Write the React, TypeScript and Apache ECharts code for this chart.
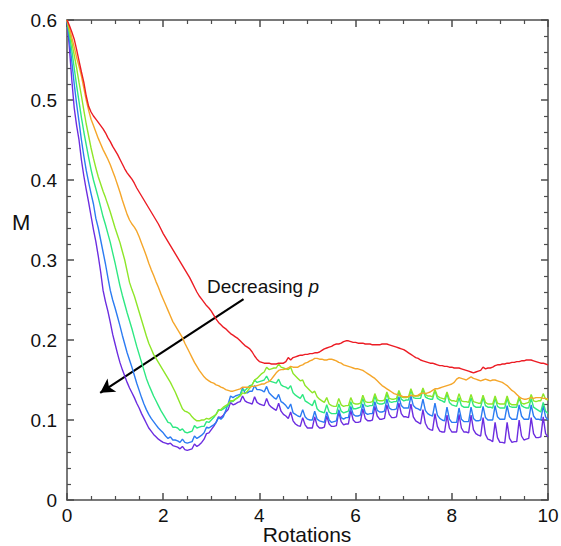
import React, { useEffect, useRef } from "react";
import * as echarts from "echarts";

// x spacing of the sampled curves (rotations)
const ROT_STEP = 0.05;

const X_TICKS = [0, 2, 4, 6, 8, 10];
const Y_TICKS = [0, 0.1, 0.2, 0.3, 0.4, 0.5, 0.6];

const SERIES_NAMES = ["p1", "p2", "p3", "p4", "p5", "p6"];
const SERIES_COLORS = ["#ec1c24", "#f5a62a", "#8ee628", "#2ee882", "#2b7bf2", "#6c2de0"];

const RED = [
  0.600, 0.593, 0.585, 0.576, 0.563, 0.549, 0.535, 0.522, 0.505, 0.492, 0.485, 0.480, 0.476, 0.472, 0.468, 0.464, 0.459, 0.453, 0.448, 0.442,
  0.437, 0.432, 0.426, 0.420, 0.414, 0.409, 0.405, 0.401, 0.396, 0.390, 0.385, 0.380, 0.375, 0.370, 0.365, 0.360, 0.355, 0.350, 0.345, 0.339,
  0.333, 0.328, 0.323, 0.318, 0.313, 0.308, 0.303, 0.298, 0.293, 0.288, 0.283, 0.278, 0.272, 0.266, 0.260, 0.255, 0.251, 0.247, 0.243, 0.240,
  0.236, 0.231, 0.226, 0.222, 0.219, 0.216, 0.214, 0.211, 0.208, 0.206, 0.204, 0.202, 0.199, 0.196, 0.193, 0.191, 0.189, 0.185, 0.180, 0.176,
  0.173, 0.172, 0.171, 0.171, 0.171, 0.170, 0.170, 0.170, 0.171, 0.171, 0.171, 0.173, 0.178, 0.175, 0.178, 0.179, 0.180, 0.181, 0.181, 0.182,
  0.182, 0.183, 0.183, 0.184, 0.184, 0.185, 0.187, 0.189, 0.190, 0.191, 0.192, 0.194, 0.195, 0.195, 0.196, 0.198, 0.199, 0.199, 0.198, 0.197,
  0.197, 0.196, 0.196, 0.196, 0.195, 0.195, 0.195, 0.194, 0.194, 0.194, 0.194, 0.195, 0.195, 0.195, 0.194, 0.193, 0.192, 0.191, 0.190, 0.189,
  0.188, 0.186, 0.184, 0.182, 0.180, 0.178, 0.177, 0.175, 0.174, 0.173, 0.172, 0.171, 0.171, 0.170, 0.169, 0.168, 0.168, 0.167, 0.167, 0.166,
  0.166, 0.165, 0.165, 0.165, 0.164, 0.163, 0.162, 0.161, 0.160, 0.159, 0.160, 0.161, 0.162, 0.166, 0.164, 0.165, 0.165, 0.166, 0.168, 0.169,
  0.169, 0.170, 0.170, 0.171, 0.171, 0.172, 0.172, 0.173, 0.173, 0.174, 0.174, 0.175, 0.175, 0.175, 0.174, 0.173, 0.172, 0.171, 0.171, 0.170,
  0.169,
];

const ORANGE = [
  0.600, 0.590, 0.578, 0.566, 0.553, 0.542, 0.530, 0.515, 0.500, 0.487, 0.476, 0.468, 0.460, 0.452, 0.445, 0.438, 0.432, 0.426, 0.419, 0.411,
  0.403, 0.394, 0.385, 0.375, 0.366, 0.357, 0.350, 0.345, 0.341, 0.336, 0.329, 0.321, 0.313, 0.305, 0.296, 0.288, 0.281, 0.273, 0.266, 0.258,
  0.251, 0.244, 0.237, 0.230, 0.223, 0.218, 0.213, 0.208, 0.203, 0.196, 0.190, 0.184, 0.178, 0.172, 0.167, 0.162, 0.158, 0.154, 0.151, 0.149,
  0.147, 0.146, 0.144, 0.143, 0.141, 0.140, 0.138, 0.137, 0.136, 0.136, 0.137, 0.138, 0.139, 0.141, 0.141, 0.141, 0.141, 0.142, 0.142, 0.143,
  0.144, 0.145, 0.145, 0.147, 0.148, 0.151, 0.155, 0.159, 0.162, 0.163, 0.163, 0.164, 0.165, 0.167, 0.166, 0.166, 0.166, 0.168, 0.169, 0.171,
  0.172, 0.174, 0.175, 0.177, 0.177, 0.176, 0.176, 0.175, 0.175, 0.176, 0.176, 0.175, 0.174, 0.172, 0.171, 0.169, 0.168, 0.167, 0.166, 0.165,
  0.164, 0.164, 0.163, 0.162, 0.160, 0.158, 0.156, 0.154, 0.152, 0.149, 0.146, 0.143, 0.141, 0.139, 0.137, 0.135, 0.133, 0.132, 0.131, 0.130,
  0.129, 0.129, 0.129, 0.131, 0.130, 0.130, 0.131, 0.133, 0.134, 0.133, 0.134, 0.135, 0.137, 0.139, 0.139, 0.140, 0.141, 0.142, 0.143, 0.144,
  0.145, 0.147, 0.151, 0.153, 0.152, 0.151, 0.150, 0.152, 0.154, 0.152, 0.151, 0.150, 0.149, 0.150, 0.151, 0.150, 0.149, 0.150, 0.150, 0.149,
  0.148, 0.147, 0.145, 0.143, 0.140, 0.137, 0.135, 0.132, 0.129, 0.127, 0.126, 0.126, 0.127, 0.128, 0.127, 0.128, 0.128, 0.128, 0.127, 0.127,
  0.126,
];

const YELLOW_GREEN = [
  0.600, 0.586, 0.572, 0.556, 0.540, 0.522, 0.505, 0.487, 0.470, 0.455, 0.440, 0.427, 0.415, 0.404, 0.395, 0.386, 0.378, 0.369, 0.360, 0.350,
  0.340, 0.331, 0.322, 0.311, 0.300, 0.286, 0.272, 0.263, 0.255, 0.245, 0.235, 0.225, 0.215, 0.205, 0.196, 0.189, 0.182, 0.177, 0.172, 0.167,
  0.162, 0.157, 0.152, 0.147, 0.141, 0.135, 0.128, 0.121, 0.114, 0.111, 0.110, 0.108, 0.104, 0.101, 0.099, 0.099, 0.100, 0.100, 0.102, 0.101,
  0.103, 0.105, 0.107, 0.112, 0.113, 0.116, 0.118, 0.120, 0.124, 0.124, 0.126, 0.128, 0.130, 0.134, 0.133, 0.136, 0.140, 0.144, 0.150, 0.152,
  0.155, 0.158, 0.160, 0.166, 0.163, 0.164, 0.165, 0.165, 0.170, 0.166, 0.165, 0.164, 0.163, 0.166, 0.158, 0.155, 0.152, 0.149, 0.150, 0.143,
  0.140, 0.137, 0.134, 0.136, 0.129, 0.126, 0.124, 0.122, 0.128, 0.120, 0.118, 0.117, 0.117, 0.127, 0.119, 0.117, 0.118, 0.118, 0.128, 0.121,
  0.120, 0.120, 0.121, 0.131, 0.123, 0.122, 0.122, 0.123, 0.133, 0.125, 0.124, 0.124, 0.125, 0.135, 0.127, 0.126, 0.126, 0.127, 0.137, 0.129,
  0.128, 0.128, 0.129, 0.139, 0.131, 0.130, 0.130, 0.131, 0.140, 0.132, 0.130, 0.130, 0.129, 0.138, 0.130, 0.128, 0.127, 0.126, 0.135, 0.126,
  0.124, 0.124, 0.123, 0.133, 0.124, 0.123, 0.123, 0.122, 0.132, 0.123, 0.122, 0.121, 0.121, 0.131, 0.122, 0.120, 0.120, 0.120, 0.130, 0.121,
  0.120, 0.120, 0.120, 0.130, 0.121, 0.119, 0.119, 0.119, 0.129, 0.121, 0.120, 0.121, 0.122, 0.132, 0.124, 0.123, 0.124, 0.124, 0.133, 0.126,
  0.125,
];

const GREEN = [
  0.600, 0.582, 0.562, 0.540, 0.518, 0.498, 0.478, 0.460, 0.444, 0.428, 0.413, 0.400, 0.389, 0.378, 0.366, 0.354, 0.344, 0.333, 0.322, 0.309,
  0.296, 0.282, 0.268, 0.256, 0.245, 0.234, 0.224, 0.214, 0.203, 0.192, 0.182, 0.172, 0.162, 0.152, 0.144, 0.137, 0.130, 0.124, 0.118, 0.112,
  0.107, 0.102, 0.097, 0.096, 0.091, 0.091, 0.090, 0.087, 0.089, 0.085, 0.084, 0.085, 0.086, 0.093, 0.090, 0.091, 0.092, 0.092, 0.098, 0.097,
  0.100, 0.103, 0.107, 0.113, 0.112, 0.114, 0.116, 0.118, 0.124, 0.123, 0.126, 0.128, 0.131, 0.138, 0.137, 0.140, 0.143, 0.144, 0.150, 0.147,
  0.148, 0.149, 0.150, 0.155, 0.149, 0.148, 0.147, 0.146, 0.151, 0.144, 0.142, 0.141, 0.139, 0.143, 0.134, 0.131, 0.129, 0.127, 0.132, 0.124,
  0.122, 0.120, 0.118, 0.125, 0.114, 0.111, 0.110, 0.109, 0.119, 0.110, 0.108, 0.108, 0.108, 0.120, 0.111, 0.109, 0.110, 0.111, 0.123, 0.114,
  0.114, 0.115, 0.116, 0.127, 0.118, 0.117, 0.118, 0.118, 0.130, 0.121, 0.120, 0.120, 0.121, 0.133, 0.123, 0.122, 0.123, 0.123, 0.135, 0.126,
  0.124, 0.125, 0.125, 0.137, 0.128, 0.127, 0.127, 0.127, 0.138, 0.129, 0.127, 0.126, 0.126, 0.137, 0.127, 0.125, 0.124, 0.122, 0.133, 0.122,
  0.119, 0.118, 0.117, 0.128, 0.118, 0.116, 0.116, 0.116, 0.128, 0.118, 0.116, 0.116, 0.116, 0.128, 0.118, 0.116, 0.116, 0.115, 0.127, 0.117,
  0.115, 0.115, 0.115, 0.127, 0.117, 0.116, 0.116, 0.116, 0.128, 0.118, 0.116, 0.115, 0.115, 0.127, 0.116, 0.114, 0.112, 0.110, 0.122, 0.111,
  0.108,
];

const BLUE = [
  0.600, 0.575, 0.548, 0.520, 0.495, 0.473, 0.450, 0.430, 0.412, 0.397, 0.383, 0.370, 0.352, 0.340, 0.325, 0.310, 0.295, 0.278, 0.262, 0.250,
  0.240, 0.229, 0.218, 0.206, 0.195, 0.184, 0.175, 0.166, 0.156, 0.146, 0.137, 0.128, 0.120, 0.113, 0.107, 0.102, 0.098, 0.094, 0.090, 0.087,
  0.084, 0.080, 0.077, 0.079, 0.075, 0.075, 0.074, 0.072, 0.076, 0.072, 0.071, 0.072, 0.073, 0.080, 0.077, 0.079, 0.081, 0.084, 0.091, 0.090,
  0.092, 0.094, 0.097, 0.103, 0.101, 0.104, 0.112, 0.120, 0.130, 0.128, 0.130, 0.131, 0.132, 0.140, 0.134, 0.134, 0.136, 0.136, 0.143, 0.138,
  0.138, 0.137, 0.135, 0.142, 0.134, 0.131, 0.128, 0.126, 0.132, 0.123, 0.121, 0.118, 0.114, 0.120, 0.109, 0.107, 0.105, 0.104, 0.113, 0.104,
  0.101, 0.100, 0.100, 0.111, 0.101, 0.099, 0.098, 0.097, 0.110, 0.100, 0.097, 0.098, 0.099, 0.113, 0.103, 0.101, 0.103, 0.103, 0.117, 0.107,
  0.105, 0.105, 0.106, 0.120, 0.109, 0.107, 0.108, 0.108, 0.123, 0.112, 0.110, 0.110, 0.111, 0.126, 0.115, 0.113, 0.113, 0.114, 0.129, 0.118,
  0.115, 0.115, 0.115, 0.130, 0.118, 0.115, 0.114, 0.112, 0.126, 0.112, 0.108, 0.106, 0.105, 0.121, 0.106, 0.102, 0.100, 0.099, 0.116, 0.101,
  0.097, 0.097, 0.097, 0.115, 0.101, 0.098, 0.098, 0.098, 0.116, 0.102, 0.099, 0.099, 0.100, 0.117, 0.103, 0.100, 0.100, 0.100, 0.118, 0.104,
  0.101, 0.101, 0.101, 0.118, 0.104, 0.101, 0.101, 0.101, 0.119, 0.105, 0.101, 0.101, 0.101, 0.119, 0.105, 0.101, 0.101, 0.100, 0.118, 0.104,
  0.100,
];

const PURPLE = [
  0.600, 0.565, 0.525, 0.490, 0.468, 0.450, 0.425, 0.405, 0.388, 0.372, 0.355, 0.338, 0.323, 0.305, 0.285, 0.262, 0.248, 0.236, 0.222, 0.207,
  0.195, 0.183, 0.172, 0.163, 0.155, 0.147, 0.140, 0.134, 0.128, 0.121, 0.115, 0.108, 0.102, 0.096, 0.090, 0.086, 0.082, 0.079, 0.076, 0.074,
  0.072, 0.071, 0.070, 0.071, 0.068, 0.067, 0.066, 0.064, 0.067, 0.063, 0.062, 0.063, 0.064, 0.070, 0.067, 0.069, 0.072, 0.076, 0.083, 0.084,
  0.088, 0.092, 0.097, 0.104, 0.103, 0.106, 0.110, 0.113, 0.122, 0.119, 0.120, 0.122, 0.123, 0.130, 0.124, 0.122, 0.121, 0.120, 0.129, 0.122,
  0.120, 0.119, 0.118, 0.127, 0.119, 0.116, 0.114, 0.112, 0.121, 0.111, 0.107, 0.105, 0.102, 0.110, 0.099, 0.095, 0.093, 0.092, 0.103, 0.094,
  0.090, 0.090, 0.090, 0.104, 0.093, 0.090, 0.090, 0.091, 0.105, 0.095, 0.092, 0.092, 0.093, 0.110, 0.098, 0.094, 0.095, 0.095, 0.112, 0.100,
  0.097, 0.097, 0.098, 0.114, 0.102, 0.099, 0.099, 0.100, 0.117, 0.105, 0.101, 0.101, 0.102, 0.119, 0.107, 0.103, 0.103, 0.104, 0.121, 0.108,
  0.104, 0.104, 0.103, 0.120, 0.104, 0.099, 0.097, 0.095, 0.113, 0.096, 0.090, 0.088, 0.087, 0.108, 0.092, 0.086, 0.085, 0.085, 0.106, 0.090,
  0.085, 0.085, 0.085, 0.107, 0.090, 0.085, 0.085, 0.084, 0.106, 0.088, 0.083, 0.081, 0.080, 0.103, 0.082, 0.076, 0.075, 0.073, 0.097, 0.078,
  0.072, 0.072, 0.071, 0.097, 0.077, 0.072, 0.073, 0.073, 0.100, 0.080, 0.075, 0.076, 0.077, 0.103, 0.083, 0.078, 0.078, 0.079, 0.104, 0.083,
  0.079,
];

const SERIES_VALUES = [RED, ORANGE, YELLOW_GREEN, GREEN, BLUE, PURPLE];

// arrow annotation, in data coordinates [rotations, M]
const ARROW_START = [3.67, 0.251];
const ARROW_END = [0.69, 0.134];
const ARROW_TEXT = "Decreasing ";
const ARROW_TEXT_ITALIC = "p";
const Y_NAME = "M";
const X_NAME = "Rotations";

const FONT = "'Liberation Sans', Arial, Helvetica, sans-serif";

export default function App() {
  const ref = useRef<HTMLDivElement>(null);

  useEffect(() => {
    document.body.style.margin = "0";
    const chart = echarts.init(ref.current!, null, { renderer: "svg" });

    const axisLineStyle = { color: "#4d4d4d", width: 1.5 };
    const xBase = {
      type: "value",
      min: X_TICKS[0],
      max: X_TICKS[X_TICKS.length - 1],
      interval: X_TICKS[1] - X_TICKS[0],
      axisLine: { show: true, onZero: false, lineStyle: axisLineStyle },
      axisTick: { show: true, inside: true, length: 7, lineStyle: axisLineStyle },
      minorTick: { show: true, splitNumber: 4, length: 4, lineStyle: { color: "#4d4d4d", width: 1.2 } },
      splitLine: { show: false },
      minorSplitLine: { show: false },
    };
    const yBase = {
      type: "value",
      min: Y_TICKS[0],
      max: Y_TICKS[Y_TICKS.length - 1],
      interval: 0.1,
      axisLine: { show: true, onZero: false, lineStyle: axisLineStyle },
      axisTick: { show: true, inside: true, length: 7, lineStyle: axisLineStyle },
      minorTick: { show: true, splitNumber: 5, length: 4, lineStyle: { color: "#4d4d4d", width: 1.2 } },
      splitLine: { show: false },
      minorSplitLine: { show: false },
    };

    const series: any[] = SERIES_VALUES.map((vals, k) => ({
      name: SERIES_NAMES[k],
      type: "line",
      xAxisIndex: 0,
      yAxisIndex: 0,
      showSymbol: false,
      symbol: "none",
      clip: true,
      lineStyle: { color: SERIES_COLORS[k], width: 1.4 },
      data: vals.map((v, i) => [Number((i * ROT_STEP).toFixed(2)), v]),
      z: 10 - k,
    }));

    series.push({
      name: "arrow",
      type: "line",
      data: [],
      xAxisIndex: 0,
      yAxisIndex: 0,
      markLine: {
        silent: true,
        symbol: ["none", "arrow"],
        symbolSize: [12, 14],
        label: { show: false },
        lineStyle: { color: "#000", width: 2.2, type: "solid" },
        data: [[{ coord: ARROW_START }, { coord: ARROW_END }]],
      },
      z: 20,
    });

    const option: any = {
      animation: false,
      backgroundColor: "#fff",
      grid: { left: 67, right: 13, top: 20, bottom: 46, containLabel: false, outerBoundsMode: "none" },
      xAxis: [
        {
          ...xBase,
          position: "bottom",
          axisLabel: { show: true, margin: 6, fontFamily: FONT, fontSize: 19, color: "#111" },
        },
        {
          ...xBase,
          position: "top",
          axisLabel: { show: false },
        },
      ],
      yAxis: [
        {
          ...yBase,
          position: "left",
          axisLabel: { show: true, margin: 10, fontFamily: FONT, fontSize: 19, color: "#111" },
        },
        {
          ...yBase,
          position: "right",
          axisLabel: { show: false },
        },
      ],
      series,
      graphic: [
        {
          type: "text",
          left: 12,
          top: 211,
          z: 30,
          style: { text: Y_NAME, fontFamily: FONT, fontSize: 22, fill: "#111" },
        },
        {
          type: "text",
          x: 307,
          y: 524,
          z: 30,
          style: {
            text: X_NAME,
            fontFamily: FONT,
            fontSize: 21,
            fill: "#111",
            align: "center",
            verticalAlign: "top",
          },
        },
        {
          type: "text",
          left: 207,
          top: 277,
          z: 30,
          style: {
            text: "{a|" + ARROW_TEXT + "}{b|" + ARROW_TEXT_ITALIC + "}",
            rich: {
              a: { fontFamily: FONT, fontSize: 19, fill: "#111" },
              b: { fontFamily: FONT, fontSize: 19, fontStyle: "italic", fill: "#111" },
            },
          },
        },
      ],
    };

    chart.setOption(option);
    return () => chart.dispose();
  }, []);

  return <div ref={ref} style={{ width: 561, height: 546 }} />;
}
